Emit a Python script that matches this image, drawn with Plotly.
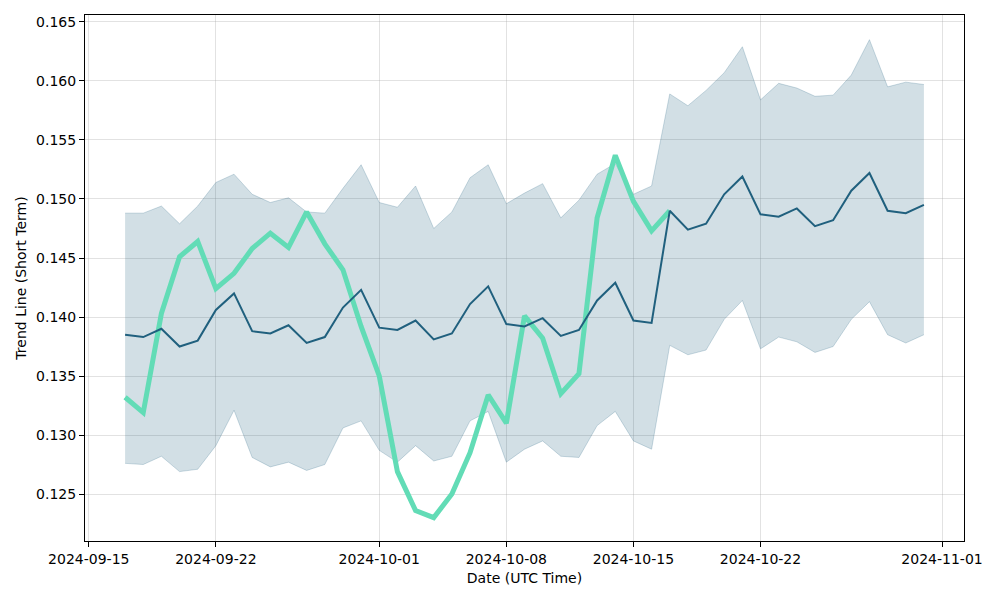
import plotly.graph_objects as go
import pandas as pd

dates = pd.date_range("2024-09-17", "2024-10-31", freq="D").strftime("%Y-%m-%d").tolist()

mean_vals = [0.1385, 0.1383, 0.1390, 0.1375, 0.1380, 0.1406, 0.1420, 0.1388, 0.1386, 0.1393,
             0.1378, 0.1383, 0.1408, 0.1423, 0.1391, 0.1389, 0.1397, 0.1381, 0.1386, 0.1411,
             0.1426, 0.1394, 0.1392, 0.1399, 0.1384, 0.1389, 0.1414, 0.1429, 0.1397, 0.1395,
             0.1490, 0.1474, 0.1479, 0.1504, 0.1519, 0.1487, 0.1485, 0.1492, 0.1477, 0.1482,
             0.1507, 0.1522, 0.1490, 0.1488, 0.1495]

upper_vals = [0.1488, 0.1488, 0.1494, 0.1479, 0.1494, 0.1514, 0.1521, 0.1504, 0.1497, 0.1501,
              0.1489, 0.1488, 0.1509, 0.1529, 0.1497, 0.1493, 0.1511, 0.1475, 0.1489, 0.1518,
              0.1529, 0.1496, 0.1505, 0.1513, 0.1484, 0.1499, 0.1521, 0.1530, 0.1504, 0.1511,
              0.1589, 0.1579, 0.1592, 0.1607, 0.1629, 0.1584, 0.1598, 0.1594, 0.1587, 0.1588,
              0.1605, 0.1635, 0.1595, 0.1599, 0.1597]

lower_vals = [0.1276, 0.1275, 0.1282, 0.1269, 0.1271, 0.1291, 0.1321, 0.1281, 0.1273, 0.1277,
              0.1270, 0.1275, 0.1306, 0.1312, 0.1287, 0.1277, 0.1291, 0.1278, 0.1282, 0.1312,
              0.1320, 0.1277, 0.1288, 0.1295, 0.1282, 0.1281, 0.1308, 0.1320, 0.1295, 0.1288,
              0.1376, 0.1368, 0.1372, 0.1398, 0.1414, 0.1373, 0.1383, 0.1379, 0.1370, 0.1375,
              0.1398, 0.1413, 0.1385, 0.1378, 0.1385]

trend_vals = [0.1332, 0.1319, 0.1403, 0.1451, 0.1464, 0.1424, 0.1437, 0.1458, 0.1471, 0.1459,
              0.1489, 0.1462, 0.1440, 0.1392, 0.1350, 0.1269, 0.1236, 0.1230, 0.1250, 0.1285,
              0.1334, 0.1310, 0.1401, 0.1382, 0.1335, 0.1352, 0.1484, 0.1537, 0.1498, 0.1473,
              0.1490]
trend_dates = dates[:len(trend_vals)]

x_tick_vals = ["2024-09-15", "2024-09-22", "2024-10-01", "2024-10-08", "2024-10-15", "2024-10-22", "2024-11-01"]
y_tick_vals = [0.125, 0.130, 0.135, 0.140, 0.145, 0.150, 0.155, 0.160, 0.165]

band_col = "rgba(31,95,127,0.2)"
edge_col = "rgba(31,95,127,0.22)"
font_family = "DejaVu Sans"

fig = go.Figure()
fig.add_trace(go.Scatter(x=dates, y=upper_vals, mode="lines",
                         line=dict(color=edge_col, width=1), showlegend=False, hoverinfo="skip"))
fig.add_trace(go.Scatter(x=dates, y=lower_vals, mode="lines", fill="tonexty", fillcolor=band_col,
                         line=dict(color=edge_col, width=1), showlegend=False, hoverinfo="skip"))
fig.add_trace(go.Scatter(x=trend_dates, y=trend_vals, mode="lines",
                         line=dict(color="#62dcb6", width=5), showlegend=False))
fig.add_trace(go.Scatter(x=dates, y=mean_vals, mode="lines",
                         line=dict(color="#20607e", width=2), showlegend=False))

axis_common = dict(showline=True, linecolor="black", linewidth=1, mirror=True,
                   ticks="outside", ticklen=5, tickcolor="black", tickwidth=1,
                   showgrid=True, gridcolor="rgba(160,160,160,0.3)", gridwidth=1,
                   zeroline=False, automargin=False,
                   tickfont=dict(family=font_family, size=14, color="black"))

fig.update_xaxes(type="date", range=["2024-09-14 19:00", "2024-11-02 05:00"],
                 tickvals=x_tick_vals, tickformat="%Y-%m-%d",
                 title=dict(text="Date (UTC Time)", font=dict(family=font_family, size=14, color="black"), standoff=7),
                 **axis_common)
fig.update_yaxes(range=[0.12102, 0.16559], tickvals=y_tick_vals, tickformat=".3f",
                 title=dict(text="Trend Line (Short Term)", font=dict(family=font_family, size=14, color="black"), standoff=6),
                 **axis_common)

# page body has an 8px margin, so the figure is offset by 8px in the screenshot
fig.update_layout(width=992, height=592, plot_bgcolor="white", paper_bgcolor="white",
                  margin=dict(l=77, r=36, t=7, b=59), showlegend=False)

fig.write_html("out.html")
